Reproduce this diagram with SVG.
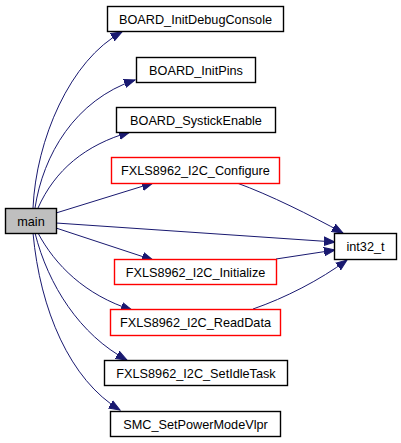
<svg xmlns="http://www.w3.org/2000/svg" width="401" height="443" viewBox="0 0 401 443">
<style>
.n rect{fill:#fff;stroke:#000;stroke-width:1.4}
.n.r rect{stroke:#ff0000}
.n.m rect{fill:#bfbfbf}
.n text{font-family:"Liberation Sans",Arial,sans-serif;font-size:12.7px;text-anchor:middle;fill:#000}
.e path{fill:none;stroke:#191970;stroke-width:1;marker-end:url(#a)}
</style>
<defs>
<marker id="a" markerUnits="userSpaceOnUse" markerWidth="12" markerHeight="10" refX="11" refY="5" orient="auto" viewBox="0 0 12 10">
<path d="M0,0.8 L11,5 L0,9.2 Z" fill="#191970" stroke="#191970" stroke-width="1"/>
</marker>
</defs>
<rect width="401" height="443" fill="#fff"/>
<g id="edges" class="e">
<path d="M33,208 C36,140 70,60 122,32"/>
<path d="M35,208 C43,155 75,100 135,80"/>
<path d="M38,208 C55,170 85,145 130,132"/>
<path d="M56,213 L153,183"/>
<path d="M56,223 L335,242"/>
<path d="M56,228 L153,260"/>
<path d="M237,183 C270,195 310,215 343,233"/>
<path d="M276,259 L335,250"/>
<path d="M253,309 C285,298 320,280 347,260"/>
<path d="M38,233 C55,265 85,295 132,310"/>
<path d="M35,233 C48,285 80,335 127,360"/>
<path d="M33,233 C40,310 70,380 120,410"/>
</g>
<g id="main" class="n m"><rect x="5.5" y="208.5" width="51" height="25"/><text x="31" y="225.5">main</text></g>
<g id="BOARD_InitDebugConsole" class="n"><rect x="107.5" y="6.5" width="176" height="25"/><text x="195.5" y="23.5">BOARD_InitDebugConsole</text></g>
<g id="BOARD_InitPins" class="n"><rect x="136.5" y="57.5" width="119" height="25"/><text x="196" y="74.5">BOARD_InitPins</text></g>
<g id="BOARD_SystickEnable" class="n"><rect x="116.5" y="107.5" width="159" height="25"/><text x="196" y="124.5">BOARD_SystickEnable</text></g>
<g id="FXLS8962_I2C_Configure" class="n r"><rect x="111.5" y="157.5" width="168" height="26"/><text x="195.5" y="175">FXLS8962_I2C_Configure</text></g>
<g id="int32_t" class="n"><rect x="334.5" y="233.5" width="62" height="26"/><text x="365.5" y="251">int32_t</text></g>
<g id="FXLS8962_I2C_Initialize" class="n r"><rect x="114.5" y="259.5" width="162" height="25"/><text x="195.5" y="276.5">FXLS8962_I2C_Initialize</text></g>
<g id="FXLS8962_I2C_ReadData" class="n r"><rect x="110.5" y="309.5" width="170" height="26"/><text x="195.5" y="327">FXLS8962_I2C_ReadData</text></g>
<g id="FXLS8962_I2C_SetIdleTask" class="n"><rect x="104.5" y="360.5" width="183" height="25"/><text x="196" y="377.5">FXLS8962_I2C_SetIdleTask</text></g>
<g id="SMC_SetPowerModeVlpr" class="n"><rect x="110.5" y="411.5" width="170" height="25"/><text x="195.5" y="428.5">SMC_SetPowerModeVlpr</text></g>
</svg>
